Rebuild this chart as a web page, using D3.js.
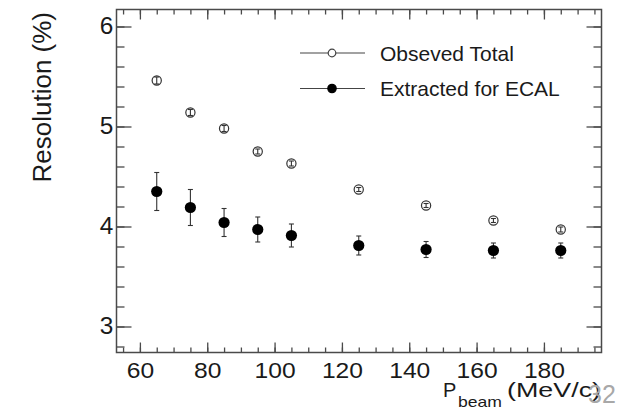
<html>
<head>
<title>Resolution vs beam momentum</title>
<script src="https://cdnjs.cloudflare.com/ajax/libs/d3/7.8.5/d3.min.js"></script>
<style>
    body { margin: 0; background: #fff; }
    text { font-family: "Liberation Sans", Arial, Helvetica, sans-serif; fill: #1a1a1a; }
</style>
</head>
<body>
<div id="chart"></div>
<script type="text/javascript">

// beam momentum points (MeV/c)
var momentum = [65, 75, 85, 95, 105, 125, 145, 165, 185];

// observed total resolution (%) and its error
var observedTotal = [5.46, 5.14, 4.98, 4.75, 4.63, 4.37, 4.21, 4.06, 3.97];
var observedErr   = [0.035, 0.03, 0.03, 0.025, 0.025, 0.02, 0.02, 0.02, 0.025];

// extracted ECAL resolution (%) and its error
var ecalValues = [4.35, 4.19, 4.04, 3.97, 3.91, 3.81, 3.77, 3.76, 3.76];
var ecalErr    = [0.19, 0.18, 0.14, 0.125, 0.115, 0.095, 0.08, 0.075, 0.075];

var xMajorTicks = [60, 80, 100, 120, 140, 160, 180];
var xMinorTicks = d3.range(55, 200, 5);
var yMajorTicks = [3, 4, 5, 6];
var yMinorTicks = d3.range(2.8, 6.2, 0.2);

var legendLabels = ["Obseved Total", "Extracted for ECAL"];

var W = 628, H = 415;
var frame = {left: 116.5, right: 601.5, top: 9.5, bottom: 352.5};

var svg = d3.select("#chart").append("svg")
    .attr("width", W)
    .attr("height", H);

var x = d3.scaleLinear().domain([53.05, 197.1]).range([frame.left, frame.right]);
var y = d3.scaleLinear().domain([2.74, 6.17]).range([frame.bottom, frame.top]);

var axisColor = "#4a4a4a";

// bottom axis: major ticks with labels, minor ticks without
var bottomMajor = svg.append("g")
    .attr("transform", "translate(0," + frame.bottom + ")")
    .call(d3.axisBottom(x).tickValues(xMajorTicks).tickSizeInner(-10).tickSizeOuter(0).tickPadding(10));
var bottomMinor = svg.append("g")
    .attr("transform", "translate(0," + frame.bottom + ")")
    .call(d3.axisBottom(x).tickValues(xMinorTicks).tickSizeInner(-5).tickSizeOuter(0).tickFormat(""));

// top axis mirrors the ticks
var topMajor = svg.append("g")
    .attr("transform", "translate(0," + frame.top + ")")
    .call(d3.axisTop(x).tickValues(xMajorTicks).tickSizeInner(-10).tickSizeOuter(0).tickFormat(""));
var topMinor = svg.append("g")
    .attr("transform", "translate(0," + frame.top + ")")
    .call(d3.axisTop(x).tickValues(xMinorTicks).tickSizeInner(-5).tickSizeOuter(0).tickFormat(""));

// left axis
var leftMajor = svg.append("g")
    .attr("transform", "translate(" + frame.left + ",0)")
    .call(d3.axisLeft(y).tickValues(yMajorTicks).tickSizeInner(-15).tickSizeOuter(0).tickPadding(3).tickFormat(d3.format("d")));
var leftMinor = svg.append("g")
    .attr("transform", "translate(" + frame.left + ",0)")
    .call(d3.axisLeft(y).tickValues(yMinorTicks).tickSizeInner(-8).tickSizeOuter(0).tickFormat(""));

// right axis
var rightMajor = svg.append("g")
    .attr("transform", "translate(" + frame.right + ",0)")
    .call(d3.axisRight(y).tickValues(yMajorTicks).tickSizeInner(-15).tickSizeOuter(0).tickFormat(""));
var rightMinor = svg.append("g")
    .attr("transform", "translate(" + frame.right + ",0)")
    .call(d3.axisRight(y).tickValues(yMinorTicks).tickSizeInner(-8).tickSizeOuter(0).tickFormat(""));

svg.selectAll(".domain").remove();
svg.selectAll(".tick line").attr("stroke", axisColor).attr("stroke-width", 1.3);

bottomMajor.selectAll("text")
    .style("font-size", "22px")
    .attr("fill", "#1a1a1a")
    .attr("transform", "scale(1.12,1)");
leftMajor.selectAll("text")
    .style("font-size", "23px")
    .attr("fill", "#1a1a1a")
    .attr("transform", "scale(1.06,1)");

// frame
svg.append("rect")
    .attr("x", frame.left)
    .attr("y", frame.top)
    .attr("width", frame.right - frame.left)
    .attr("height", frame.bottom - frame.top)
    .attr("fill", "none")
    .attr("stroke", axisColor)
    .attr("stroke-width", 1.5);

// error bars + markers
function drawSeries(vals, errs, filled, r) {
    var g = svg.append("g");
    var pts = momentum.map(function(m, i) { return {m: m, v: vals[i], e: errs[i]}; });

    var eb = g.selectAll(".eb").data(pts).enter().append("g");
    eb.append("line")
        .attr("x1", function(d) { return x(d.m); })
        .attr("x2", function(d) { return x(d.m); })
        .attr("y1", function(d) { return y(d.v + d.e); })
        .attr("y2", function(d) { return y(d.v - d.e); });
    eb.append("line")
        .attr("x1", function(d) { return x(d.m) - 2.5; })
        .attr("x2", function(d) { return x(d.m) + 2.5; })
        .attr("y1", function(d) { return y(d.v + d.e); })
        .attr("y2", function(d) { return y(d.v + d.e); });
    eb.append("line")
        .attr("x1", function(d) { return x(d.m) - 2.5; })
        .attr("x2", function(d) { return x(d.m) + 2.5; })
        .attr("y1", function(d) { return y(d.v - d.e); })
        .attr("y2", function(d) { return y(d.v - d.e); });
    eb.selectAll("line").attr("stroke", "#333").attr("stroke-width", 1.1);

    // markers; open ones go under their (small) error bar
    g.selectAll("circle").data(pts).enter().insert("circle", filled ? null : ":first-child")
        .attr("cx", function(d) { return x(d.m); })
        .attr("cy", function(d) { return y(d.v); })
        .attr("r", r)
        .attr("fill", filled ? "#000" : "#fff")
        .attr("stroke", filled ? "#000" : "#333")
        .attr("stroke-width", filled ? 0 : 1.2);
}

drawSeries(observedTotal, observedErr, false, 4.6);
drawSeries(ecalValues, ecalErr, true, 5.6);

// legend
var legend = svg.selectAll(".legend")
    .data(legendLabels)
    .enter().append("g")
    .attr("class", "legend")
    .attr("transform", function(d, i) { return "translate(300," + (53 + i * 35.5) + ")"; });

legend.append("line")
    .attr("x1", 0).attr("x2", 65)
    .attr("y1", 0).attr("y2", 0)
    .attr("stroke", "#444").attr("stroke-width", 1.2);
legend.append("circle")
    .attr("cx", 32).attr("cy", 0)
    .attr("r", function(d, i) { return i === 0 ? 3.8 : 4.2; })
    .attr("fill", function(d, i) { return i === 0 ? "#fff" : "#000"; })
    .attr("stroke", function(d, i) { return i === 0 ? "#444" : "#000"; })
    .attr("stroke-width", 1.2);
legend.append("text")
    .attr("x", 80)
    .attr("y", 7.5)
    .style("font-size", "21px")
    .text(function(d) { return d; });

// y title
svg.append("text")
    .attr("transform", "translate(50.5,12) rotate(-90)")
    .attr("text-anchor", "end")
    .style("font-size", "26px")
    .text("Resolution (%)");

// x title
var xTitle = svg.append("text")
    .attr("x", 443)
    .attr("y", 397)
    .style("font-size", "20px");
xTitle.append("tspan").text("P");
xTitle.append("tspan")
    .attr("x", 458).attr("y", 407)
    .style("font-size", "15px")
    .attr("textLength", 44).attr("lengthAdjust", "spacingAndGlyphs")
    .text("beam");
xTitle.append("tspan")
    .attr("x", 507).attr("y", 397)
    .attr("textLength", 94).attr("lengthAdjust", "spacingAndGlyphs")
    .text("(MeV/c)");

// slide page number
svg.append("text")
    .attr("x", 588)
    .attr("y", 403)
    .style("font-size", "25px")
    .style("fill", "#a8a8a8")
    .style("font-weight", "300")
    .text("32");

</script>
</body>
</html>
